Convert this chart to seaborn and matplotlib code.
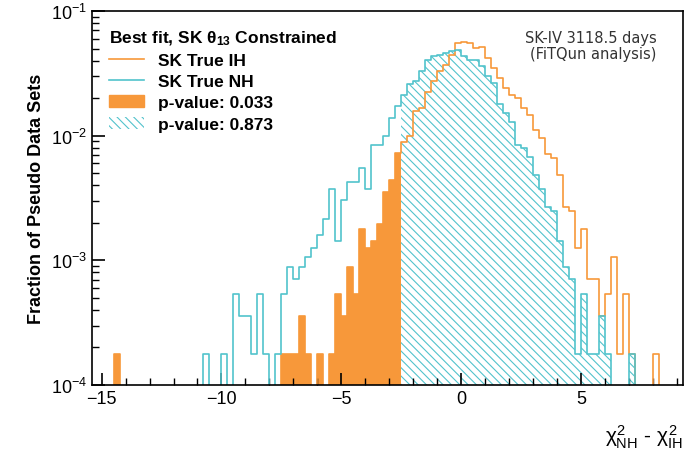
import matplotlib
matplotlib.use("Agg")
import matplotlib.pyplot as plt
import seaborn as sns
import numpy as np
import pandas as pd
from matplotlib.lines import Line2D
from matplotlib.patches import Patch

# number of pseudo data sets (one entry ~ 1.8e-4)
n_sets = 5620
cut = -2.5
edges = list(np.arange(-15.0, 8.5001, 0.25))

# SK true IH : left bin edge -> entries
ih_bins = [-14.5, -7.5, -7.25, -7.0, -6.75, -6.5, -6.0, -5.5, -5.25, -5.0, -4.75, -4.5,
           -4.25, -4.0, -3.75, -3.5, -3.25, -3.0, -2.75,
           -2.5, -2.25, -2.0, -1.75, -1.5, -1.25, -1.0, -0.75, -0.5, -0.25,
           0.0, 0.25, 0.5, 0.75, 1.0, 1.25, 1.5, 1.75, 2.0, 2.25, 2.5, 2.75,
           3.0, 3.25, 3.5, 3.75, 4.0, 4.25, 4.5, 4.75, 5.0, 5.25, 5.5, 5.75,
           6.0, 6.25, 6.5, 6.75, 7.0, 8.0]
ih_counts = [1, 1, 1, 1, 2, 1, 1, 1, 3, 2, 5, 3,
             10, 7, 8, 11, 20, 25, 41,
             50, 56, 89, 93, 126, 155, 184, 209, 251, 310,
             316, 309, 282, 288, 234, 195, 162, 135, 120, 112, 93, 83,
             62, 54, 40, 37, 27, 15, 14, 7, 10, 4, 4, 2,
             3, 6, 1, 3, 1, 1]

# SK true NH
nh_bins = [-10.75, -10.0, -9.5, -9.25, -9.0, -8.75, -8.5, -8.25, -7.75, -7.5, -7.25,
           -7.0, -6.75, -6.5, -6.25, -6.0, -5.75, -5.5, -5.25, -5.0, -4.75, -4.5,
           -4.25, -4.0, -3.75, -3.5, -3.25, -3.0, -2.75,
           -2.5, -2.25, -2.0, -1.75, -1.5, -1.25, -1.0, -0.75, -0.5, -0.25,
           0.0, 0.25, 0.5, 0.75, 1.0, 1.25, 1.5, 1.75, 2.0, 2.25, 2.5, 2.75,
           3.0, 3.25, 3.5, 3.75, 4.0, 4.25, 4.5, 4.75, 5.0, 5.25, 5.5, 5.75,
           6.0, 7.0]
nh_counts = [1, 1, 3, 2, 2, 1, 3, 1, 1, 3, 5,
             4, 5, 6, 7, 9, 12, 21, 8, 17, 24, 24,
             31, 21, 47, 47, 56, 78, 98,
             120, 146, 155, 184, 229, 245, 251, 257, 269, 275,
             245, 229, 229, 204, 170, 148, 100, 85, 72, 47, 45, 38,
             27, 21, 15, 14, 8, 5, 4, 1, 3, 1, 1, 2,
             1, 1]

orange = "#f7983a"
cyan = "#52c3cc"

ih = pd.DataFrame({"x": np.array(ih_bins) + 0.125, "w": np.array(ih_counts) / n_sets})
nh = pd.DataFrame({"x": np.array(nh_bins) + 0.125, "w": np.array(nh_counts) / n_sets})

plt.rcParams['font.family'] = ['Liberation Sans', 'DejaVu Sans']
plt.rcParams['mathtext.fontset'] = 'custom'
plt.rcParams['mathtext.rm'] = 'Liberation Sans'
plt.rcParams['mathtext.it'] = 'Liberation Sans'
plt.rcParams['mathtext.bf'] = 'Liberation Sans:bold'
plt.rcParams['hatch.linewidth'] = 0.8
fig = plt.figure(figsize=(6.88, 4.6), dpi=100)
ax = fig.add_axes([92 / 688, 1 - 386 / 460, 591 / 688, 374 / 460])

# filled regions (p-values)
sns.histplot(data=ih[ih.x < cut], x="x", weights="w", bins=edges, element="step",
             fill=True, color=orange, alpha=1, linewidth=0, ax=ax)
sns.histplot(data=nh[nh.x > cut], x="x", weights="w", bins=edges, element="step",
             fill=True, color=cyan, alpha=1, linewidth=0, ax=ax)
hatched = ax.collections[-1]
hatched.set_facecolor("none")
hatched.set_edgecolor(cyan)
hatched.set_hatch("\\\\\\\\")
# outlines
sns.histplot(data=ih, x="x", weights="w", bins=edges, element="step", fill=False,
             color=orange, linewidth=1.2, ax=ax)
sns.histplot(data=nh, x="x", weights="w", bins=edges, element="step", fill=False,
             color=cyan, linewidth=1.2, ax=ax)

ax.set_yscale("log")
ax.set_ylim(1e-4, 1e-1)
ax.set_xlim(-15.4, 9.25)
ax.set_xticks([-15, -10, -5, 0, 5])
ax.set_xticks(np.arange(-15, 10, 1), minor=True)
ax.tick_params(which="both", direction="in", labelsize=13)
ax.tick_params(which="major", length=9, width=1.2)
ax.tick_params(which="minor", length=5, width=1)
for s in ax.spines.values():
    s.set_linewidth(1.2)
ax.set_ylabel("Fraction of Pseudo Data Sets", fontsize=13, fontweight="bold", labelpad=4)
ax.set_xlabel(r"$\chi^2_{\rm NH}$ - $\chi^2_{\rm IH}$", fontsize=15, loc="right")
ax.xaxis.set_label_coords(1.0, -0.1)

ax.text(0.955, 0.95, "SK-IV 3118.5 days\n(FiTQun analysis)", transform=ax.transAxes,
        ha="right", va="top", fontsize=10.5, family=["DejaVu Sans"], linespacing=1.1,
        color="#333333")

handles = [Line2D([], [], color=orange, lw=1.2),
           Line2D([], [], color=cyan, lw=1.2),
           Patch(facecolor=orange, edgecolor=orange),
           Patch(facecolor="none", edgecolor=cyan, hatch="\\\\\\\\", lw=0)]
labels = ["SK True IH", "SK True NH", "p-value: 0.033", "p-value: 0.873"]
leg = ax.legend(handles, labels, loc="upper left", frameon=False,
                prop={"size": 12.5, "weight": "bold"},
                title=r"Best fit, SK θ$_{\mathbf{13}}$ Constrained", title_fontsize=12.5,
                handlelength=2.0, borderaxespad=0.6, labelspacing=0.35)
leg._legend_box.align = "left"
leg.get_title().set_fontweight("bold")

fig.savefig("out.png", dpi=100)
